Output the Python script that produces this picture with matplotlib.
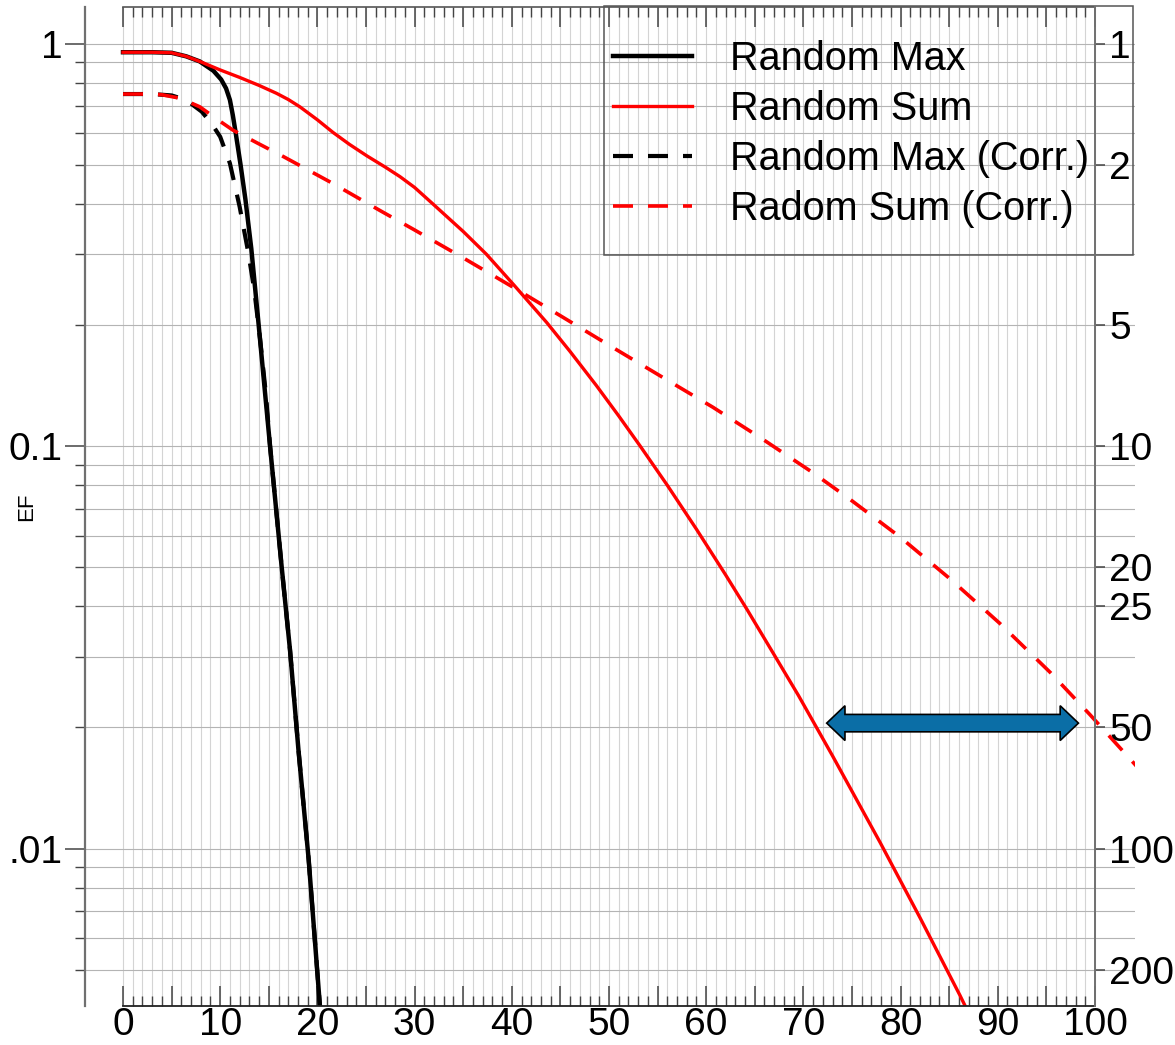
import numpy as np
import matplotlib
matplotlib.use("Agg")
import matplotlib.pyplot as plt
from matplotlib import transforms
from matplotlib.patches import Polygon, Rectangle
from matplotlib.ticker import FixedLocator, FixedFormatter, FuncFormatter, NullLocator, NullFormatter, LogLocator

plt.rcParams['font.family'] = ['Liberation Sans', 'DejaVu Sans']
plt.rcParams['lines.scale_dashes'] = False

# ---------------- data ----------------
max_x = [0, 3, 5, 6.5, 7.9, 9.3, 10.1, 10.6, 11.0, 11.3, 11.6, 12.1, 12.6, 13.2, 13.96,
         15.13, 16.33, 17.18, 18.05, 19.1, 20.26, 20.6]
max_ef = [0.954, 0.954, 0.951, 0.932, 0.905, 0.858, 0.816, 0.776, 0.726, 0.665, 0.600,
          0.500, 0.410, 0.310, 0.200, 0.100, 0.050, 0.0312, 0.0176, 0.0094, 0.00406, 0.0033]

sum_x = [0, 3, 5, 6.5, 8.0, 10.0, 12.0, 14.0, 15.8, 17.0, 18.2, 20.0, 21.6, 23.3, 25.1,
         27.0, 28.5, 30.0, 31.9, 35.0, 37.4, 40.2, 43.6, 46.0, 48.7, 51.0, 53.2, 56.0,
         59.0, 62.0, 64.2, 67.0, 69.5, 73.0, 77.9, 82.0, 86.1, 87.0]
sum_ef = [0.954, 0.954, 0.951, 0.932, 0.903, 0.862, 0.826, 0.789, 0.754, 0.728, 0.698,
          0.648, 0.603, 0.563, 0.527, 0.494, 0.468, 0.440, 0.400, 0.342, 0.300, 0.252,
          0.203, 0.172, 0.1416, 0.119, 0.1002, 0.080, 0.0622, 0.0479, 0.0393, 0.0303,
          0.0240, 0.0170, 0.01035, 0.00673, 0.00432, 0.0039]

maxc_x = [0, 3, 5, 6.5, 8.1, 9.1, 10.0, 11.0, 12.0, 12.9, 13.5, 14.1, 14.7, 15.13, 16.33,
          17.18, 18.05, 19.1, 20.26, 20.6]
maxc_ef = [0.751, 0.751, 0.745, 0.726, 0.679, 0.635, 0.588, 0.505, 0.394, 0.302, 0.245,
           0.185, 0.135, 0.100, 0.050, 0.0312, 0.0176, 0.0094, 0.00406, 0.0033]

sumc_x = [0, 3, 4, 5.9, 7.9, 9.6, 11.3, 13.9, 16.5, 21.6, 26.4, 29.9, 35.0, 40.2, 45.3,
          50.4, 55.6, 60.7, 65.9, 71.0, 74.8, 79.9, 85.1, 90.2, 95.4, 99.5, 104.1, 105.0]
sumc_ef = [0.751, 0.751, 0.748, 0.733, 0.698, 0.652, 0.611, 0.566, 0.525, 0.450, 0.386,
           0.346, 0.294, 0.248, 0.209, 0.176, 0.148, 0.125, 0.1038, 0.0859, 0.0738,
           0.0596, 0.0468, 0.0363, 0.0274, 0.0215, 0.0162, 0.0153]

series_labels = ["Random Max", "Random Sum", "Random Max (Corr.)", "Radom Sum (Corr.)"]

x_major_ticks = list(range(0, 101, 5))
x_minor_ticks = list(range(0, 101, 1))
left_tick_vals = [1, 0.1, 0.01]
left_tick_labels = ["1", "0.1", ".01"]
right_tick_vals = [1, 2, 5, 10, 20, 25, 50, 100, 200]

arrow_x = (72.4, 98.3)
arrow_ef = 0.0205

# ---------------- figure ----------------
W, H = 1175, 1045
fig = plt.figure(figsize=(W / 100, H / 100), dpi=100)
ax = fig.add_axes([85 / W, 39 / H, 1050 / W, 999 / H])

xlim = (-3.91, 104.12)
ylim = (0.00406, 1.236)
ax.set_yscale('log')
ax.set_xlim(*xlim)
ax.set_ylim(*ylim)

tick_col = '#444444'
tick_fs = 28
l1, = ax.plot(max_x, max_ef, color='black', lw=3.2, label=series_labels[0])
l2, = ax.plot(sum_x, sum_ef, color='#ff0000', lw=2.4, label=series_labels[1])
l3, = ax.plot(maxc_x, maxc_ef, color='black', lw=3.0, linestyle=(0, (14.4, 10.8)),
              label=series_labels[2])
l4, = ax.plot(sumc_x, sumc_ef, color='#ff0000', lw=2.6, linestyle=(0, (14.4, 10.8)),
              label=series_labels[3])

# x axis
ax.xaxis.set_major_locator(FixedLocator(x_major_ticks))
ax.xaxis.set_minor_locator(FixedLocator(x_minor_ticks))
ax.xaxis.set_major_formatter(FuncFormatter(
    lambda v, p: f"{int(round(v))}" if int(round(v)) % 10 == 0 else ""))
ax.tick_params(axis='x', which='major', direction='in', length=14.4, width=1.1,
               top=True, bottom=True, labelsize=tick_fs, pad=1, color=tick_col)
ax.tick_params(axis='x', which='minor', direction='in', length=7.2, width=1.0,
               top=True, bottom=True, color=tick_col)

# y axis (left)
ax.yaxis.set_major_locator(FixedLocator(left_tick_vals))
ax.yaxis.set_major_formatter(FixedFormatter(left_tick_labels))
ax.yaxis.set_minor_locator(LogLocator(base=10, subs=np.arange(2, 10)))
ax.yaxis.set_minor_formatter(NullFormatter())
ax.tick_params(axis='y', which='major', direction='out', length=14.4, width=1.1,
               labelsize=tick_fs, pad=2, color=tick_col)
ax.tick_params(axis='y', which='minor', direction='out', length=7.2, width=1.0,
               color=tick_col)

ax.grid(True, which='both', axis='x', color='#d4d4d4', lw=0.8)
ax.grid(True, which='both', axis='y', color='#b4b4b4', lw=0.8)
ax.set_axisbelow(True)

ax.spines['right'].set_visible(False)
ax.spines['top'].set_bounds(0, 100)
ax.spines['bottom'].set_bounds(0, 100)
ax.spines['left'].set_color('#707070')
ax.spines['left'].set_linewidth(1.6)
ax.spines['top'].set_color('#555555')
ax.spines['top'].set_linewidth(1.2)
ax.spines['bottom'].set_color('#222222')
ax.spines['bottom'].set_linewidth(1.3)

# right axis: 1/EF
tw = ax.twinx()
tw.set_yscale('log')
tw.set_ylim(*ylim)
tw.yaxis.set_major_locator(FixedLocator([1.0 / v for v in right_tick_vals]))
tw.yaxis.set_major_formatter(FixedFormatter([str(v) for v in right_tick_vals]))
tw.yaxis.set_minor_locator(NullLocator())
tw.tick_params(axis='y', which='major', direction='out', length=7.2, width=1.1,
               labelsize=tick_fs, pad=3, color=tick_col)
for s in ('left', 'top', 'bottom'):
    tw.spines[s].set_visible(False)
tw.spines['right'].set_position(('data', 100))
tw.spines['right'].set_color('#707070')
tw.spines['right'].set_linewidth(1.4)

# legend
leg = ax.legend([l1, l2, l3, l4], series_labels, loc='upper left',
                bbox_to_anchor=((613 - 85) / 1050, 1 - (40 - 7) / 999),
                borderaxespad=0, borderpad=0, frameon=False, fontsize=28.5,
                handlelength=2.0, handletextpad=0.96, labelspacing=0.30)
frame = Rectangle(((604 - 85) / 1050, (1006 - 255) / 999), 529 / 1050, 249 / 999,
                  transform=ax.transAxes, fill=False, ec='#555555', lw=1.1,
                  clip_on=False, zorder=6)
ax.add_patch(frame)

# double-headed arrow (annotation)
hl = 1.88          # head length in x data units
bw = 0.087         # body half-thickness, inches
hw = 0.174         # head half-height, inches
xl, xr = arrow_x
verts = [(xl, 0), (xl + hl, hw), (xl + hl, bw), (xr - hl, bw), (xr - hl, hw), (xr, 0),
         (xr - hl, -hw), (xr - hl, -bw), (xl + hl, -bw), (xl + hl, -hw)]
ytrans = fig.dpi_scale_trans + transforms.ScaledTranslation(0, arrow_ef, ax.transData)
btrans = transforms.blended_transform_factory(ax.transData, ytrans)
arrow = Polygon(verts, closed=True, transform=btrans, facecolor='#0b6ea6',
                edgecolor='black', lw=1.2, zorder=7, clip_on=False)
ax.add_patch(arrow)

fig.text(27 / W, 1 - 507 / H, 'EF', rotation=90, fontsize=16, ha='center', va='center')

fig.savefig('out.png', dpi=100)
